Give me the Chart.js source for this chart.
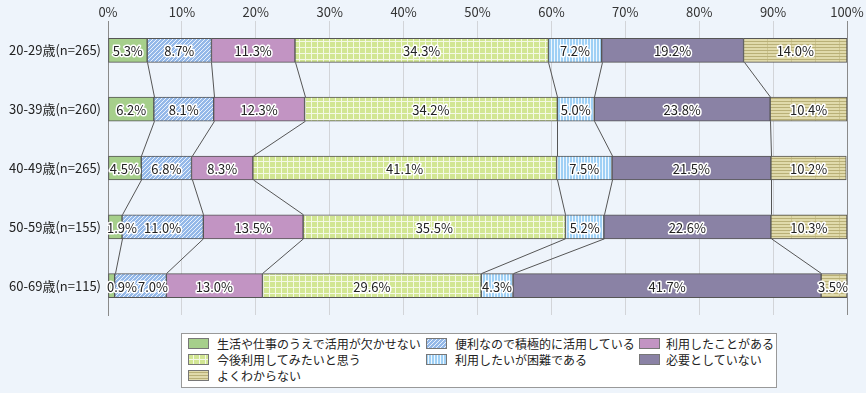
<!DOCTYPE html>
<html>
<head>
<meta charset="utf-8">
<script src="https://cdn.jsdelivr.net/npm/chart.js@4/dist/chart.umd.min.js"></script>
<style>
  html,body{margin:0;padding:0;background:#eef4fb;}
  #wrap{position:relative;width:866px;height:393px;overflow:hidden;font-family:"Noto Sans CJK JP","Noto Sans",sans-serif;}
  #c{position:absolute;left:0;top:0;}
  #legend{position:absolute;left:181px;top:333px;width:596px;height:55px;border:1px solid #999;background:#fff;box-sizing:border-box;}
  .li{position:absolute;font-size:12px;line-height:14px;color:#222;white-space:nowrap;}
  .li canvas{position:absolute;left:0;top:1px;}
  .li span{position:absolute;top:0;}
</style>
</head>
<body>
<div id="wrap">
  <canvas id="c" width="866" height="393"></canvas>
  <div id="legend"></div>
</div>
<script>
const categories = ["20-29歳(n=265)", "30-39歳(n=260)", "40-49歳(n=265)", "50-59歳(n=155)", "60-69歳(n=115)"];
const seriesNames = ["生活や仕事のうえで活用が欠かせない", "便利なので積極的に活用している", "利用したことがある", "今後利用してみたいと思う", "利用したいが困難である", "必要としていない", "よくわからない"];
const s1 = [5.3, 6.2, 4.5, 1.9, 0.9];
const s2 = [8.7, 8.1, 6.8, 11.0, 7.0];
const s3 = [11.3, 12.3, 8.3, 13.5, 13.0];
const s4 = [34.3, 34.2, 41.1, 35.5, 29.6];
const s5 = [7.2, 5.0, 7.5, 5.2, 4.3];
const s6 = [19.2, 23.8, 21.5, 22.6, 41.7];
const s7 = [14.0, 10.4, 10.2, 10.3, 3.5];
const seriesValues = [s1, s2, s3, s4, s5, s6, s7];
const xTicks = [0, 10, 20, 30, 40, 50, 60, 70, 80, 90, 100];

const FONT = '"Noto Sans CJK JP","Noto Sans",sans-serif';

function makePattern(kind) {
  const cv = document.createElement('canvas');
  const ctx = cv.getContext('2d');
  if (kind === 'diag') {
    cv.width = 4; cv.height = 4;
    ctx.fillStyle = '#94b8e8'; ctx.fillRect(0,0,4,4);
    ctx.fillStyle = '#eaf2fc';
    for (let i = 0; i < 4; i++) { ctx.fillRect((3 - i + 4) % 4, i, 1, 1); }
  } else if (kind === 'grid') {
    cv.width = 6; cv.height = 6;
    ctx.fillStyle = '#d2e693'; ctx.fillRect(0,0,6,6);
    ctx.fillStyle = '#f4f9e4';
    ctx.fillRect(5,0,1,6); ctx.fillRect(0,5,6,1);
  } else if (kind === 'vert') {
    cv.width = 3; cv.height = 3;
    ctx.fillStyle = '#9fd0f5'; ctx.fillRect(0,0,3,3);
    ctx.fillStyle = '#eef7fe'; ctx.fillRect(2,0,1,3);
  } else if (kind === 'horiz') {
    cv.width = 24; cv.height = 3;
    ctx.fillStyle = '#e0daab'; ctx.fillRect(0,0,24,3);
    ctx.fillStyle = '#b9b077'; ctx.fillRect(0,2,24,1);
    ctx.fillStyle = 'rgba(185,176,119,0.5)'; ctx.fillRect(23,0,1,2);
  }
  return document.createElement('canvas').getContext('2d').createPattern(cv, 'repeat');
}

const fills = [
  '#a6cf8b',
  makePattern('diag'),
  '#c294c3',
  makePattern('grid'),
  makePattern('vert'),
  '#8a82a5',
  makePattern('horiz')
];

const datasets = seriesValues.map((vals, i) => ({
  label: seriesNames[i],
  data: vals,
  backgroundColor: fills[i],
  borderColor: '#555555',
  borderWidth: 1,
  borderSkipped: false,
  barThickness: 24
}));

const connectorPlugin = {
  id: 'connectors',
  afterDatasetsDraw(chart) {
    const ctx = chart.ctx;
    ctx.save();
    ctx.strokeStyle = '#555555';
    ctx.lineWidth = 1;
    const n = chart.data.labels.length;
    for (let k = 0; k < chart.data.datasets.length - 1; k++) {
      const meta = chart.getDatasetMeta(k);
      for (let r = 0; r < n - 1; r++) {
        const a = meta.data[r], b = meta.data[r + 1];
        ctx.beginPath();
        ctx.moveTo(Math.round(a.x) + 0.5, a.y + a.height / 2);
        ctx.lineTo(Math.round(b.x) + 0.5, b.y - b.height / 2);
        ctx.stroke();
      }
    }
    ctx.restore();
  }
};

const labelPlugin = {
  id: 'valueLabels',
  afterDatasetsDraw(chart) {
    const ctx = chart.ctx;
    const area = chart.chartArea;
    ctx.save();
    ctx.font = '13px ' + FONT;
    ctx.textAlign = 'left';
    ctx.textBaseline = 'middle';
    ctx.lineJoin = 'round';
    const nRows = chart.data.labels.length;
    for (let j = 0; j < nRows; j++) {
      let prevRight = -Infinity;
      chart.data.datasets.forEach((ds, i) => {
        const el = chart.getDatasetMeta(i).data[j];
        const txt = ds.data[j].toFixed(1) + '%';
        const w = ctx.measureText(txt).width;
        let left = (el.x + el.base) / 2 - w / 2;
        left = Math.max(left, area.left - 1, prevRight + 1);
        if (left + w > area.right + 1) left = area.right + 1 - w;
        prevRight = left + w;
        const y = el.y + 1;
        ctx.strokeStyle = '#ffffff';
        ctx.lineWidth = 3;
        ctx.strokeText(txt, left, y);
        ctx.fillStyle = '#222222';
        ctx.fillText(txt, left, y);
      });
    }
    ctx.restore();
  }
};

new Chart(document.getElementById('c'), {
  type: 'bar',
  data: { labels: categories, datasets },
  options: {
    indexAxis: 'y',
    responsive: false,
    animation: false,
    devicePixelRatio: 1,
    layout: { padding: { left: 0, right: 19, top: 0, bottom: 78 } },
    plugins: { legend: { display: false }, tooltip: { enabled: false } },
    scales: {
      x: {
        position: 'top',
        stacked: true,
        min: 0, max: 100,
        afterBuildTicks(axis) { axis.ticks = xTicks.map(v => ({ value: v })); },
        afterFit(axis) { axis.height = 21; },
        ticks: {
          callback: v => v + '%',
          font: { family: FONT, size: 13 },
          color: '#333333',
          padding: 1,
          maxRotation: 0
        },
        grid: {
          drawTicks: false,
          color: c => (c.tick && (c.tick.value === 0 || c.tick.value === 100)) ? '#8a8a8a' : '#d2d4d8',
          lineWidth: 1
        },
        border: { display: false }
      },
      y: {
        stacked: true,
        afterFit(axis) { axis.width = 108; },
        ticks: {
          font: { family: FONT, size: 13 },
          color: '#222222',
          padding: 7
        },
        grid: { display: false, drawTicks: false },
        border: { display: true, color: '#8a8a8a' }
      }
    }
  },
  plugins: [connectorPlugin, labelPlugin]
});

// legend (HTML, real text)
const legend = document.getElementById('legend');
const colX = [6, 244, 457];
const textOff = [29, 29, 27];
seriesNames.forEach((name, i) => {
  const col = i % 3, row = Math.floor(i / 3);
  const d = document.createElement('div');
  d.className = 'li';
  d.style.left = colX[col] + 'px';
  d.style.top = (3 + row * 16) + 'px';
  const sw = document.createElement('canvas');
  sw.width = 21; sw.height = 11;
  const sctx = sw.getContext('2d');
  sctx.fillStyle = fills[i];
  sctx.fillRect(0, 0, 21, 11);
  sctx.strokeStyle = '#777777';
  sctx.lineWidth = 1;
  sctx.strokeRect(0.5, 0.5, 20, 10);
  const sp = document.createElement('span');
  sp.style.left = textOff[col] + 'px';
  sp.textContent = name;
  d.appendChild(sw); d.appendChild(sp);
  legend.appendChild(d);
});
</script>
</body>
</html>
